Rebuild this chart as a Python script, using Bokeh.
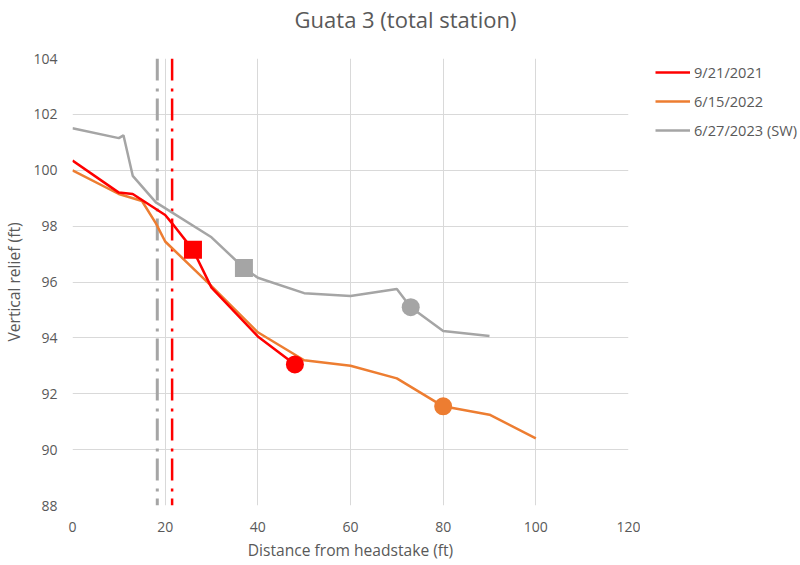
from bokeh.plotting import figure
from bokeh.models import Legend, LegendItem, Range1d, FixedTicker, Label
from bokeh.layouts import column, row
from bokeh.embed import file_html
from bokeh.resources import INLINE

# --- data ---
title_text = "Guata 3 (total station)"

red_label = "9/21/2021"
red_x = [0, 10, 13, 20, 21.5, 26, 30, 40, 48]
red_y = [100.35, 99.2, 99.15, 98.4, 98.1, 97.15, 95.8, 94.05, 93.05]

orange_label = "6/15/2022"
orange_x = [0, 10, 15, 18, 20, 30, 40, 50, 60, 70, 80, 90, 100]
orange_y = [100.0, 99.15, 98.9, 98.1, 97.45, 95.85, 94.2, 93.2, 93.0, 92.55, 91.55, 91.25, 90.4]

gray_label = "6/27/2023 (SW)"
gray_x = [0, 10, 11, 13, 18, 30, 37, 40, 50, 60, 70, 73, 80, 90]
gray_y = [101.5, 101.15, 101.25, 99.8, 98.85, 97.6, 96.5, 96.15, 95.6, 95.5, 95.75, 95.1, 94.25, 94.07]

square_x = [26, 37]
square_y = [97.15, 96.5]
circle_x = [48, 80, 73]
circle_y = [93.05, 91.55, 95.1]

ref_gray_x = 18.3
ref_red_x = 21.5
y_span = [104, 88]

x_ticks = [0, 20, 40, 60, 80, 100, 120]
y_ticks = [88, 90, 92, 94, 96, 98, 100, 102, 104]

RED = "#FF0000"
ORANGE = "#ED7D31"
GRAY = "#A5A5A5"
TXT = "#595959"
FONT = "Open Sans"

TITLE_H = 40
MAIN_W, MAIN_H = 640, 523
LEG_W = 160


def bare(fig):
    fig.outline_line_color = None
    fig.background_fill_color = "white"
    fig.border_fill_color = "white"
    fig.grid.visible = False
    return fig


# --- title strip ---
tf = bare(figure(width=MAIN_W + LEG_W, height=TITLE_H, output_backend="svg",
                 toolbar_location=None, title_location=None,
                 x_axis_type=None, y_axis_type=None,
                 x_range=Range1d(0, MAIN_W + LEG_W), y_range=Range1d(0, TITLE_H),
                 min_border=0))
tf.add_layout(Label(x=405, y=22, text=title_text, text_align="center",
                    text_baseline="middle", text_font=FONT, text_font_size="22px",
                    text_color=TXT))

# --- main plot ---
p = figure(width=MAIN_W, height=MAIN_H, output_backend="svg", toolbar_location=None,
           title_location=None,
           x_range=Range1d(0, 120), y_range=Range1d(88, 104),
           min_border_left=72, min_border_right=12, min_border_top=18,
           min_border_bottom=MAIN_H - 18 - 448)
p.outline_line_color = None
p.background_fill_color = "white"
p.border_fill_color = "white"

for ax in (p.xaxis[0], p.yaxis[0]):
    ax.axis_line_color = None
    ax.major_tick_line_color = None
    ax.minor_tick_line_color = None
    ax.major_tick_out = 0
    ax.major_tick_in = 0
    ax.major_label_text_font = FONT
    ax.major_label_text_font_size = "14px"
    ax.major_label_text_color = TXT
    ax.axis_label_text_font = FONT
    ax.axis_label_text_font_size = "15.6px"
    ax.axis_label_text_color = TXT
    ax.axis_label_text_font_style = "normal"

p.xaxis.ticker = FixedTicker(ticks=x_ticks)
p.yaxis.ticker = FixedTicker(ticks=y_ticks)
p.xaxis.axis_label = "Distance from headstake (ft)"
p.yaxis.axis_label = "Vertical relief (ft)"
p.xaxis.major_label_standoff = 16
p.yaxis.major_label_standoff = 15
p.xaxis.axis_label_standoff = 4
p.yaxis.axis_label_standoff = 5

p.xgrid.grid_line_color = "#D9D9D9"
p.ygrid.grid_line_color = "#D9D9D9"
p.xgrid.grid_line_width = 1
p.ygrid.grid_line_width = 1

# reference verticals (dash-dot)
p.line([ref_gray_x, ref_gray_x], y_span, line_color=GRAY, line_width=3, line_dash="22 8 3 7")
p.line([ref_red_x, ref_red_x], y_span, line_color=RED, line_width=2.5, line_dash="22 8 3 7")

p.line(gray_x, gray_y, line_color=GRAY, line_width=2.5)
p.line(orange_x, orange_y, line_color=ORANGE, line_width=2.5)
p.line(red_x, red_y, line_color=RED, line_width=2.5)

p.scatter(square_x, square_y, marker="square", size=18, fill_color=[RED, GRAY],
          line_color=None)
p.scatter(circle_x, circle_y, marker="circle", size=18, fill_color=[RED, ORANGE, GRAY],
          line_color=None)

# --- legend strip (its frame lines up with the main plot's frame) ---
lf = bare(figure(width=LEG_W, height=MAIN_H, output_backend="svg",
                 toolbar_location=None, title_location=None,
                 x_axis_type=None, y_axis_type=None,
                 x_range=Range1d(0, 1), y_range=Range1d(0, 1), min_border=0))
off = [-10, -9]
l_red = lf.line(off, off, line_color=RED, line_width=2.5)
l_orange = lf.line(off, off, line_color=ORANGE, line_width=2.5)
l_gray = lf.line(off, off, line_color=GRAY, line_width=2.5)

legend = Legend(items=[LegendItem(label=red_label, renderers=[l_red]),
                       LegendItem(label=orange_label, renderers=[l_orange]),
                       LegendItem(label=gray_label, renderers=[l_gray])],
                location=(15, 365), orientation="vertical",
                glyph_width=35, glyph_height=20, label_height=20, spacing=9,
                padding=0, margin=0, label_standoff=4,
                label_text_font=FONT, label_text_font_size="14.6px", label_text_color=TXT,
                border_line_color=None, background_fill_alpha=0)
lf.add_layout(legend)

layout = column(tf, row(p, lf, spacing=0), spacing=0)
open("out.html", "w").write(file_html(layout, INLINE))
